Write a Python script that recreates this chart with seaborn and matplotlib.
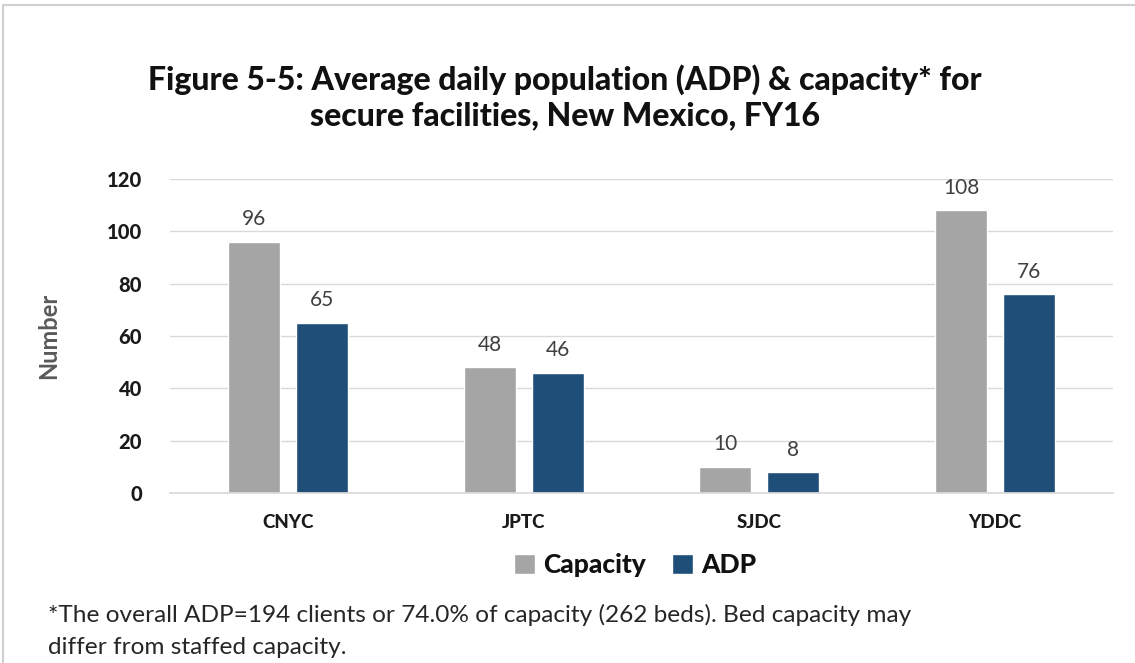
import matplotlib
matplotlib.use("Agg")
import matplotlib.pyplot as plt
import seaborn as sns
import pandas as pd
from matplotlib.patches import Patch

facilities = ["CNYC", "JPTC", "SJDC", "YDDC"]
capacity = [96, 48, 10, 108]
adp = [65, 46, 8, 76]
series = ["Capacity", "ADP"]
colors = ["#A5A5A5", "#1F4E79"]

df = pd.DataFrame({
    "Facility": facilities * 2,
    "Series": [series[0]] * len(facilities) + [series[1]] * len(facilities),
    "Value": capacity + adp,
})

sns.set_theme(style="white")
plt.rcParams["font.family"] = ["Lato", "DejaVu Sans"]

fig = plt.figure(figsize=(11.35, 6.63), dpi=100)
ax = fig.add_axes([170 / 1135, 1 - 493 / 663, (1113 - 170) / 1135, (493 - 179) / 663])

sns.barplot(data=df, x="Facility", y="Value", hue="Series", order=facilities,
            hue_order=series, palette=colors, width=0.577, gap=0.235,
            saturation=1, ax=ax, legend=False)

ax.set_xlim(-0.5, 3.5)
ax.set_ylim(0, 120)
ax.set_yticks(range(0, 121, 20))
ax.grid(axis="y", color="#D9D9D9", linewidth=1)
ax.set_axisbelow(True)
for s in ["top", "right", "left"]:
    ax.spines[s].set_visible(False)
ax.spines["bottom"].set_color("#D9D9D9")
ax.tick_params(axis="y", length=0, labelsize=14.5, colors="#1A1A1A", pad=20)
ax.tick_params(axis="x", length=0, labelsize=13.5, colors="#1A1A1A", pad=15)
for lbl in ax.get_xticklabels() + ax.get_yticklabels():
    lbl.set_fontweight("black")
ax.set_xlabel("")
ax.set_ylabel("Number", fontsize=17, fontweight="bold", color="#595959")
ax.yaxis.set_label_coords(-110 / 943, 0.5)

for cont in ax.containers:
    ax.bar_label(cont, fmt="%d", padding=9, fontsize=15, color="#404040")

fig.text(0.498, 1 - 80 / 663, "Figure 5-5: Average daily population (ADP) & capacity* for",
         ha="center", va="center", fontsize=23, fontweight="black", color="#111111")
fig.text(0.498, 1 - 116 / 663, "secure facilities, New Mexico, FY16",
         ha="center", va="center", fontsize=23, fontweight="black", color="#111111")

handles = [Patch(facecolor=c, label=s) for s, c in zip(series, colors)]
leg = fig.legend(handles=handles, loc="center", bbox_to_anchor=(635 / 1135, 1 - 565 / 663),
                 ncol=2, frameon=False, handlelength=0.8, handleheight=0.8,
                 handletextpad=0.3, columnspacing=1.0,
                 prop={"size": 19, "weight": "black"})
for t in leg.get_texts():
    t.set_color("#111111")

fig.text(48 / 1135, 1 - 615 / 663,
         "*The overall ADP=194 clients or 74.0% of capacity (262 beds). Bed capacity may",
         ha="left", va="center", fontsize=17.6, color="#262626")
fig.text(48 / 1135, 1 - 648 / 663, "differ from staffed capacity.",
         ha="left", va="center", fontsize=17.6, color="#262626")

# light frame around the chart area
fig.add_artist(plt.Line2D([3 / 1135, 3 / 1135], [0, 1 - 5 / 663], color="#D0D0D0", lw=1.5))
fig.add_artist(plt.Line2D([3 / 1135, 1], [1 - 5 / 663, 1 - 5 / 663], color="#D0D0D0", lw=1.5))

fig.savefig("out.png", dpi=100)
